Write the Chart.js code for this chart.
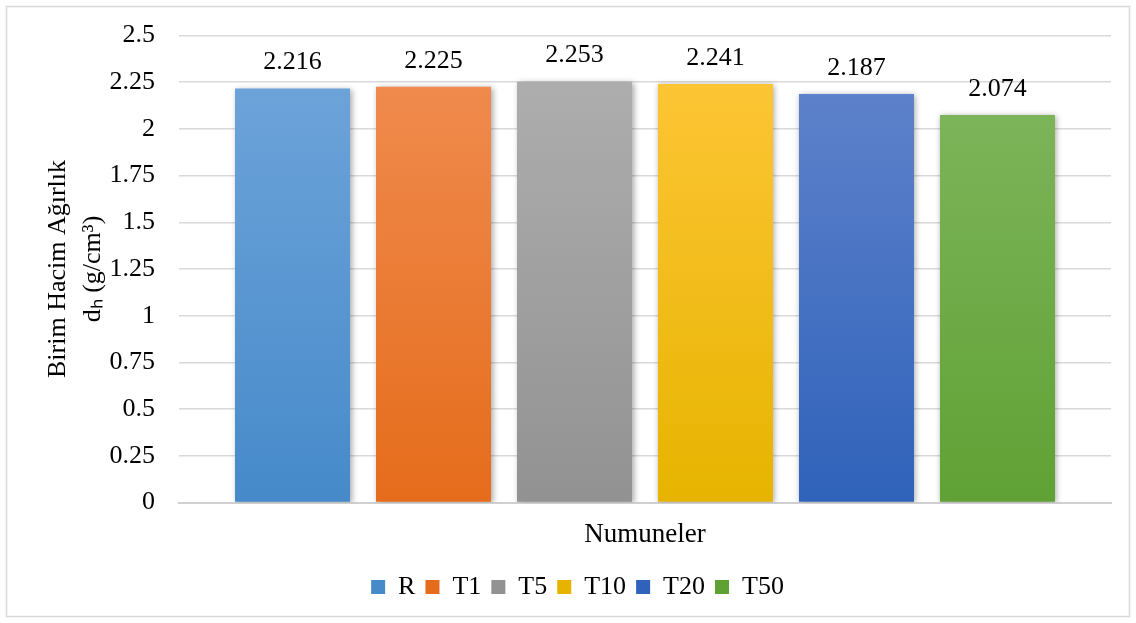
<!DOCTYPE html>
<html>
<head>
<meta charset="utf-8">
<script src="https://cdn.jsdelivr.net/npm/chart.js@4"></script>
<style>
html,body{margin:0;padding:0;background:#fff;}
#wrap{position:absolute;left:0;top:0;width:1136px;height:623px;}
</style>
</head>
<body>
<div id="wrap"><canvas id="c" width="1136" height="623"></canvas></div>
<script>
const categories = [""];
const seriesNames = ["R", "T1", "T5", "T10", "T20", "T50"];
const seriesValues = [2.216, 2.225, 2.253, 2.241, 2.187, 2.074];
const topColors = ["rgb(113,166,219)", "rgb(241,142,83)", "rgb(176,176,176)", "rgb(255,199,58)", "rgb(100,134,205)", "rgb(130,184,97)"];
const bottomColors = ["rgb(70,138,202)", "rgb(229,108,27)", "rgb(146,146,146)", "rgb(230,180,0)", "rgb(47,98,186)", "rgb(96,161,52)"];
const yTicks = [0, 0.25, 0.5, 0.75, 1, 1.25, 1.5, 1.75, 2, 2.25, 2.5];
const yTitle = ["Birim Hacim Ağırlık", "dₕ (g/cm³)"];
const xTitle = "Numuneler";

const FONT = "'Liberation Serif', 'Times New Roman', serif";

function gradFor(i) {
  return function(ctx) {
    const chart = ctx.chart;
    const area = chart.chartArea;
    if (!area) return topColors[i];
    const y0 = chart.scales.y.getPixelForValue(yTicks[yTicks.length - 1]);
    const y1 = chart.scales.y.getPixelForValue(0);
    const g = chart.ctx.createLinearGradient(0, y0, 0, y1);
    g.addColorStop(0, topColors[i]);
    g.addColorStop(1, bottomColors[i]);
    return g;
  };
}

const datasets = seriesNames.map((name, i) => ({
  label: name,
  data: [seriesValues[i]],
  backgroundColor: gradFor(i),
  borderWidth: 0,
  categoryPercentage: 0.9077,
  barPercentage: 0.8156
}));

const frame = {
  id: 'frame',
  beforeDraw(chart) {
    const c = chart.ctx;
    c.save();
    c.fillStyle = '#fff';
    c.fillRect(0, 0, chart.width, chart.height);
    c.strokeStyle = '#d9d9d9';
    c.lineWidth = 1.5;
    c.strokeRect(6.5, 6.5, chart.width - 13, chart.height - 13);
    c.restore();
  }
};

const shadow = {
  id: 'shadow',
  beforeDatasetsDraw(chart) {
    const c = chart.ctx;
    c.save();
    c.shadowColor = 'rgba(0,0,0,0.35)';
    c.shadowBlur = 6;
    c.shadowOffsetX = 1.5;
    c.shadowOffsetY = 1;
  },
  afterDatasetsDraw(chart) {
    chart.ctx.restore();
  }
};

const valueLabels = {
  id: 'valueLabels',
  afterDatasetsDraw(chart) {
    const c = chart.ctx;
    c.save();
    c.font = "26px " + FONT;
    c.fillStyle = '#000';
    c.textAlign = 'center';
    c.textBaseline = 'middle';
    chart.data.datasets.forEach((ds, i) => {
      const meta = chart.getDatasetMeta(i);
      meta.data.forEach((bar, j) => {
        c.fillText(String(ds.data[j]), bar.x, bar.y - 26);
      });
    });
    c.restore();
  }
};

new Chart(document.getElementById('c'), {
  type: 'bar',
  data: { labels: categories, datasets: datasets },
  plugins: [frame, shadow, valueLabels],
  options: {
    responsive: false,
    animation: false,
    layout: { padding: { left: 19, right: 0, top: 35.5, bottom: 13 } },
    plugins: {
      legend: {
        position: 'bottom',
        labels: {
          boxWidth: 14,
          boxHeight: 14,
          padding: 10,
          color: '#000',
          font: { family: FONT, size: 26 }
        }
      },
      tooltip: { enabled: false }
    },
    scales: {
      x: {
        grid: { display: false, drawTicks: false },
        border: { display: true, color: '#d0d0d0', width: 2 },
        ticks: { display: false },
        title: {
          display: true,
          text: xTitle,
          color: '#000',
          font: { family: FONT, size: 27, lineHeight: 1.15 },
          padding: { top: 0, bottom: 14 }
        },
        afterFit(scale) { scale.height = 61.5; }
      },
      y: {
        min: 0,
        max: 2.5,
        afterBuildTicks(scale) { scale.ticks = yTicks.map(v => ({ value: v })); },
        grid: { color: '#d9d9d9', lineWidth: 1.5, drawTicks: false },
        border: { display: false },
        ticks: {
          padding: 24,
          color: '#000',
          font: { family: FONT, size: 26 },
          callback: (v) => String(v)
        },
        title: {
          display: true,
          text: yTitle,
          color: '#000',
          font: { family: FONT, size: 26, lineHeight: 1.35 },
          padding: { top: 22, bottom: 0 }
        },
        afterFit(scale) {
          scale.width = 160;
          scale.paddingTop = 16;
          scale.paddingBottom = 16;
        }
      },
      yRight: {
        type: 'linear',
        position: 'right',
        display: true,
        grid: { display: false, drawTicks: false },
        border: { display: false },
        ticks: { display: false },
        afterFit(scale) { scale.width = 25; }
      }
    }
  }
});
</script>
</body>
</html>
